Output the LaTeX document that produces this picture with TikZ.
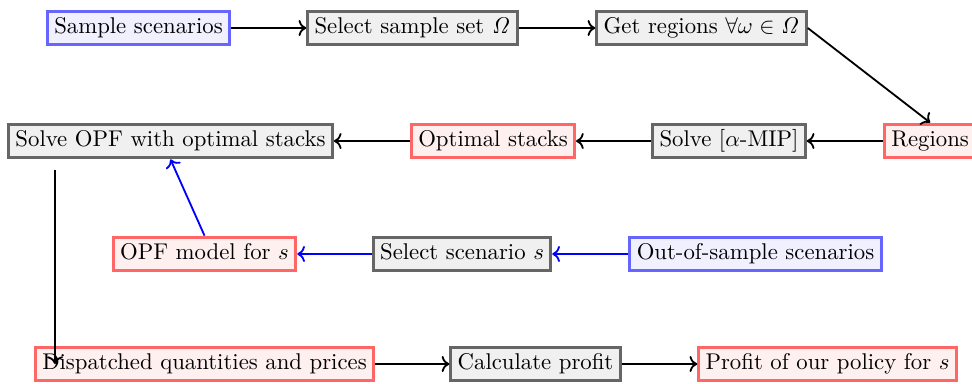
\documentclass[tikz,border=0pt]{standalone}
\usetikzlibrary{arrows.meta}
\begin{document}
\begin{tikzpicture}[x=0.01544cm, y=-0.01544cm,
  box/.style={draw, line width=1.35pt, inner sep=3pt, text height=6.9pt, text depth=1.9pt, font=\normalsize},
  inbox/.style={box, draw=blue!60, fill=blue!6},
  procbox/.style={box, draw=black!60, fill=black!6},
  outbox/.style={box, draw=red!60, fill=red!6},
  flow/.style={->, thick, black},
  bflow/.style={->, thick, blue}]
\useasboundingbox (0,0) rectangle (972,383);

% first row: sampling and region computation
\node[inbox]   (sample)  at (138.5,28) {Sample scenarios};
\node[procbox] (selset)  at (412.5,28) {Select sample set $\mathit{\Omega}$};
\node[procbox] (getreg)  at (701.5,28) {Get regions $\forall\omega\in\mathit{\Omega}$};

% second row: optimisation of the stacks
\node[outbox, anchor=west] (regions) at (883,141) {Regions};
\node[procbox] (solvemip)  at (729,141) {Solve [$\alpha$-MIP]};
\node[outbox]  (optstacks) at (493,141) {Optimal stacks};
\node[procbox] (solveopf)  at (170.5,141) {Solve OPF with optimal stacks};

% third row: out-of-sample evaluation
\node[inbox]   (outsample) at (755.5,254) {Out-of-sample scenarios};
\node[procbox] (selscen)   at (462,254) {Select scenario $s$};
\node[outbox]  (opfmodel)  at (204.5,254) {OPF model for $s$};

% fourth row: results
\node[outbox]  (dispatch)   at (204.5,364) {Dispatched quantities and prices};
\node[procbox] (calcprofit) at (535.5,364) {Calculate profit};
\node[outbox]  (profit)     at (827.5,364) {Profit of our policy for $s$};

\coordinate (dstart) at (55,170);
\coordinate (dend)   at (55,364);

\draw[flow] (sample) -- (selset);
\draw[flow] (selset) -- (getreg);
\draw[flow] (getreg.east) -- (regions.north);
\draw[flow] (regions) -- (solvemip);
\draw[flow] (solvemip) -- (optstacks);
\draw[flow] (optstacks) -- (solveopf);
\draw[flow] (dstart) -- (dend);
\draw[bflow] (outsample) -- (selscen);
\draw[bflow] (selscen) -- (opfmodel);
\draw[bflow] (opfmodel.north) -- (solveopf.south);
\draw[flow] (dispatch) -- (calcprofit);
\draw[flow] (calcprofit) -- (profit);
\end{tikzpicture}
\end{document}
